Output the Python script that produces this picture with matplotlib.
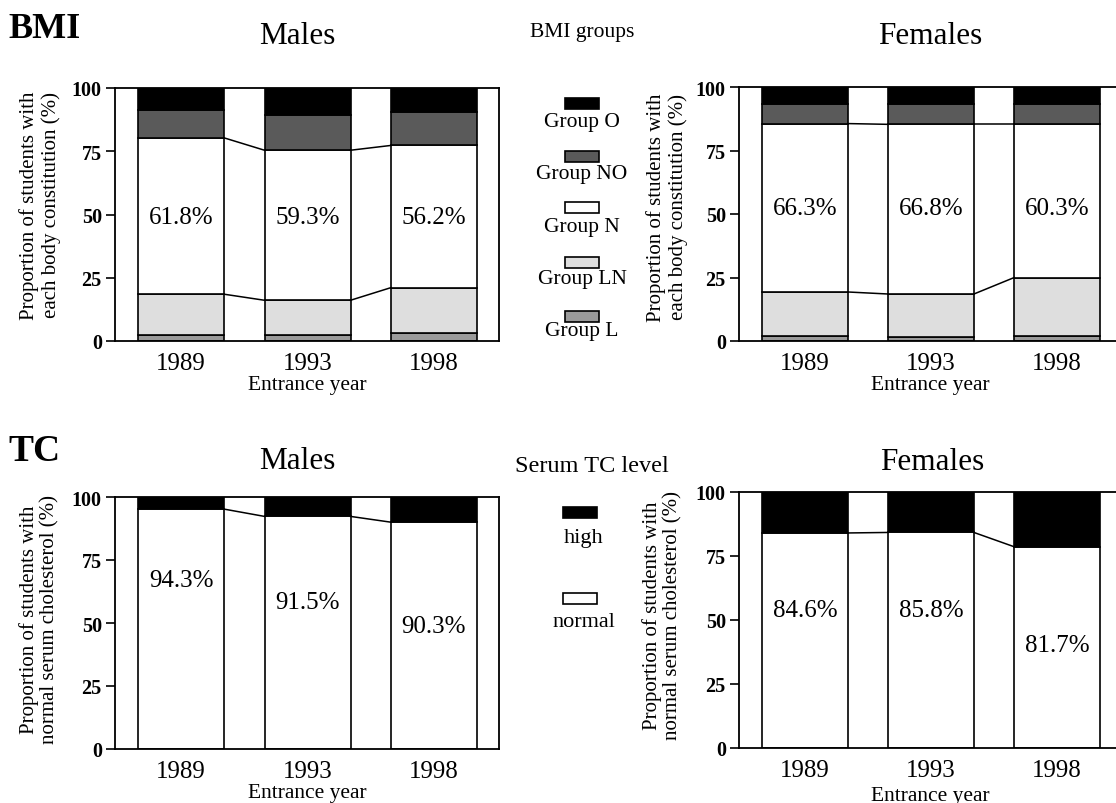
import matplotlib
matplotlib.use("Agg")
import matplotlib.pyplot as plt
from matplotlib.patches import Rectangle

plt.rcParams['font.family'] = ['Liberation Serif', 'DejaVu Serif']

W, H = 1116, 804

years = ["1989", "1993", "1998"]

# BMI groups, share of students (%) per entrance year
bmi_m_L = [2.5, 2.2, 3.2]
bmi_m_LN = [16.0, 13.9, 17.9]
bmi_m_N = [61.8, 59.3, 56.2]
bmi_m_NO = [10.9, 14.0, 13.2]
bmi_m_O = [8.8, 10.6, 9.5]

bmi_f_L = [2.0, 1.7, 2.0]
bmi_f_LN = [17.3, 16.8, 23.0]
bmi_f_N = [66.3, 66.8, 60.3]
bmi_f_NO = [7.8, 8.1, 8.1]
bmi_f_O = [6.6, 6.6, 6.6]

# serum TC: bar heights as drawn, and the printed labels
tc_m_normal = [95.2, 92.3, 90.0]
tc_f_normal = [84.0, 84.2, 78.6]
tc_m_labels = ["94.3%", "91.5%", "90.3%"]
tc_f_labels = ["84.6%", "85.8%", "81.7%"]

bmi_legend = ["Group O", "Group NO", "Group N", "Group LN", "Group L"]
tc_legend = ["high", "normal"]

# fills, bottom to top: L, LN, N, NO, O
bmi_colors = ["#9a9a9a", "#dedede", "white", "#5a5a5a", "black"]
BAR_W = 0.68


def px_axes(fig, x0, y_top, x1, y_bot):
    return fig.add_axes([x0 / W, 1 - y_bot / H, (x1 - x0) / W, (y_bot - y_top) / H])


def setup_axes(ax, ylabel, lab_x, lab_y, xlab_y):
    ax.set_xlim(-0.522, 2.514)
    ax.set_ylim(0, 100)
    ax.set_yticks([0, 25, 50, 75, 100])
    ax.set_xticks(range(3))
    ax.set_xticklabels(years, fontsize=18)
    for t in ax.get_yticklabels():
        t.set_fontweight("bold")
        t.set_fontsize(14.5)
    ax.tick_params(axis="y", length=6.5, width=1.2, pad=3)
    ax.tick_params(axis="x", length=0, pad=8)
    for s in ax.spines.values():
        s.set_linewidth(1.3)
    ax.set_ylabel(ylabel, fontsize=15, linespacing=1.1, va="center")
    ax.yaxis.set_label_coords(lab_x, lab_y)
    ax.set_xlabel("Entrance year", fontsize=15.5, va="center")
    ax.xaxis.set_label_coords(0.5, xlab_y)


def connect(ax, tops):
    for i in range(len(tops) - 1):
        ax.plot([i + BAR_W / 2, i + 1 - BAR_W / 2], [tops[i], tops[i + 1]],
                color="black", lw=1.1)


def draw_bmi(ax, segs, label_y):
    bottom = [0, 0, 0]
    bounds = []
    for seg, col in zip(segs, bmi_colors):
        ax.bar(range(3), seg, bottom=bottom, width=BAR_W, color=col,
               edgecolor="black", linewidth=1.2)
        bottom = [b + v for b, v in zip(bottom, seg)]
        bounds.append(bottom)
    connect(ax, bounds[1])  # top of LN
    connect(ax, bounds[2])  # top of N
    for i, v in enumerate(segs[2]):
        ax.text(i, label_y, f"{v}%", ha="center", va="center", fontsize=18)


def draw_tc(ax, normal, labels, label_ys):
    high = [100 - v for v in normal]
    ax.bar(range(3), normal, width=BAR_W, color="white", edgecolor="black", linewidth=1.2)
    ax.bar(range(3), high, bottom=normal, width=BAR_W, color="black",
           edgecolor="black", linewidth=1.2)
    connect(ax, normal)
    for i, (lab, y) in enumerate(zip(labels, label_ys)):
        ax.text(i, y, lab, ha="center", va="center", fontsize=18)


def legend_box(fig, x, y, col):
    fig.add_artist(Rectangle((x / W, 1 - (y + 11) / H), 34 / W, 11 / H,
                             transform=fig.transFigure, facecolor=col,
                             edgecolor="black", linewidth=1.2))


fig = plt.figure(figsize=(W / 100, H / 100), dpi=100)

bmi_label = "Proportion of students with\neach body constitution (%)"
tc_label = "Proportion of students with\nnormal serum cholesterol (%)"

ax1 = px_axes(fig, 115, 89, 499, 342)
draw_bmi(ax1, [bmi_m_L, bmi_m_LN, bmi_m_N, bmi_m_NO, bmi_m_O], 49)
setup_axes(ax1, bmi_label, -0.195, 0.54, -0.17)

ax2 = px_axes(fig, 739, 88, 1122, 342)
draw_bmi(ax2, [bmi_f_L, bmi_f_LN, bmi_f_N, bmi_f_NO, bmi_f_O], 52.5)
setup_axes(ax2, bmi_label, -0.188, 0.53, -0.17)

ax3 = px_axes(fig, 115, 498, 499, 750)
draw_tc(ax3, tc_m_normal, tc_m_labels, [66.9, 58.3, 49.0])
setup_axes(ax3, tc_label, -0.198, 0.517, -0.171)

ax4 = px_axes(fig, 739, 493, 1122, 749)
draw_tc(ax4, tc_f_normal, tc_f_labels, [53.8, 53.8, 40.1])
setup_axes(ax4, tc_label, -0.201, 0.52, -0.186)

# section headings and panel titles
fig.text(8 / W, 1 - 30 / H, "BMI", fontsize=26, fontweight="bold", va="center")
fig.text(8 / W, 1 - 452 / H, "TC", fontsize=27, fontweight="bold", va="center")
fig.text(297 / W, 1 - 37 / H, "Males", fontsize=22.5, ha="center", va="center")
fig.text(930 / W, 1 - 37 / H, "Females", fontsize=22.5, ha="center", va="center")
fig.text(297 / W, 1 - 462 / H, "Males", fontsize=22.5, ha="center", va="center")
fig.text(932 / W, 1 - 463 / H, "Females", fontsize=22.5, ha="center", va="center")

# BMI legend
fig.text(582 / W, 1 - 33 / H, "BMI groups", fontsize=15.5, ha="center", va="center")
leg_cols = ["black", "#5a5a5a", "white", "#dedede", "#9a9a9a"]
box_y = [99, 152, 203, 258, 312]
lab_y = [122, 175, 228, 280, 332]
for name, col, by, ly in zip(bmi_legend, leg_cols, box_y, lab_y):
    legend_box(fig, 565, by, col)
    fig.text(582 / W, 1 - ly / H, name, fontsize=15.5, ha="center", va="center")

# TC legend
fig.text(592 / W, 1 - 467 / H, "Serum TC level", fontsize=17.5, ha="center", va="center")
for name, col, by, ly in zip(tc_legend, ["black", "white"], [508, 594], [538, 623]):
    legend_box(fig, 563, by, col)
    fig.text(584 / W, 1 - ly / H, name, fontsize=16, ha="center", va="center")

fig.savefig("out.png", dpi=100)
